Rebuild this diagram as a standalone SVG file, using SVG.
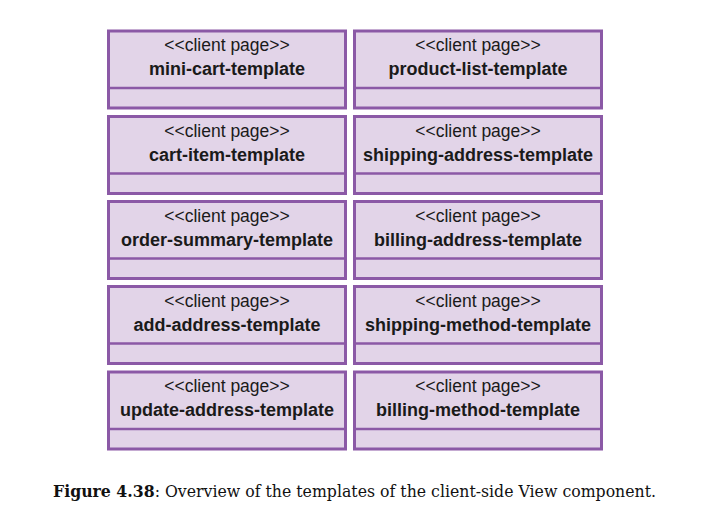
<svg xmlns="http://www.w3.org/2000/svg" width="712" height="527" viewBox="0 0 712 527">
  <style>
    .box { fill: #e2d4e8; stroke: #8b59a6; stroke-width: 3; }
    .div { stroke: #8b59a6; stroke-width: 2.5; fill: none; }
    .st { font-family: "Liberation Sans", Arial, sans-serif; font-size: 17.5px; fill: #1a1a1a; text-anchor: middle; }
    .nm { font-family: "Liberation Sans", Arial, sans-serif; font-size: 18px; font-weight: bold; fill: #1a1a1a; text-anchor: middle; }
    .cap { font-family: Georgia, "DejaVu Serif", "Liberation Serif", serif; font-size: 16.5px; fill: #111; }
  </style>
  <defs>
    <!-- UML class box: name compartment + empty lower compartment -->
    <g id="boxL">
      <rect class="box" x="108.5" y="0" width="237" height="77"/>
      <line class="div" x1="108.5" y1="57" x2="345.5" y2="57"/>
    </g>
    <g id="boxR">
      <rect class="box" x="354.5" y="0" width="247" height="77"/>
      <line class="div" x1="354.5" y1="57" x2="601.5" y2="57"/>
    </g>
  </defs>

  <rect width="712" height="527" fill="#ffffff"/>

  <g id="mini-cart-template" transform="translate(0,31)">
    <use href="#boxL"/>
    <text class="st" x="227" y="20">&lt;&lt;client page&gt;&gt;</text>
    <text class="nm" x="227" y="44">mini-cart-template</text>
  </g>
  <g id="product-list-template" transform="translate(0,31)">
    <use href="#boxR"/>
    <text class="st" x="478" y="20">&lt;&lt;client page&gt;&gt;</text>
    <text class="nm" x="478" y="44">product-list-template</text>
  </g>

  <g id="cart-item-template" transform="translate(0,116.5)">
    <use href="#boxL"/>
    <text class="st" x="227" y="20">&lt;&lt;client page&gt;&gt;</text>
    <text class="nm" x="227" y="44">cart-item-template</text>
  </g>
  <g id="shipping-address-template" transform="translate(0,116.5)">
    <use href="#boxR"/>
    <text class="st" x="478" y="20">&lt;&lt;client page&gt;&gt;</text>
    <text class="nm" x="478" y="44">shipping-address-template</text>
  </g>

  <g id="order-summary-template" transform="translate(0,201.5)">
    <use href="#boxL"/>
    <text class="st" x="227" y="20">&lt;&lt;client page&gt;&gt;</text>
    <text class="nm" x="227" y="44">order-summary-template</text>
  </g>
  <g id="billing-address-template" transform="translate(0,201.5)">
    <use href="#boxR"/>
    <text class="st" x="478" y="20">&lt;&lt;client page&gt;&gt;</text>
    <text class="nm" x="478" y="44">billing-address-template</text>
  </g>

  <g id="add-address-template" transform="translate(0,286.5)">
    <use href="#boxL"/>
    <text class="st" x="227" y="20">&lt;&lt;client page&gt;&gt;</text>
    <text class="nm" x="227" y="44">add-address-template</text>
  </g>
  <g id="shipping-method-template" transform="translate(0,286.5)">
    <use href="#boxR"/>
    <text class="st" x="478" y="20">&lt;&lt;client page&gt;&gt;</text>
    <text class="nm" x="478" y="44">shipping-method-template</text>
  </g>

  <g id="update-address-template" transform="translate(0,372)">
    <use href="#boxL"/>
    <text class="st" x="227" y="20">&lt;&lt;client page&gt;&gt;</text>
    <text class="nm" x="227" y="44">update-address-template</text>
  </g>
  <g id="billing-method-template" transform="translate(0,372)">
    <use href="#boxR"/>
    <text class="st" x="478" y="20">&lt;&lt;client page&gt;&gt;</text>
    <text class="nm" x="478" y="44">billing-method-template</text>
  </g>

  <g id="connectors"/>

  <text class="cap" x="53" y="497" textLength="603" lengthAdjust="spacingAndGlyphs"><tspan font-weight="bold">Figure 4.38</tspan>: Overview of the templates of the client-side View component.</text>
</svg>
